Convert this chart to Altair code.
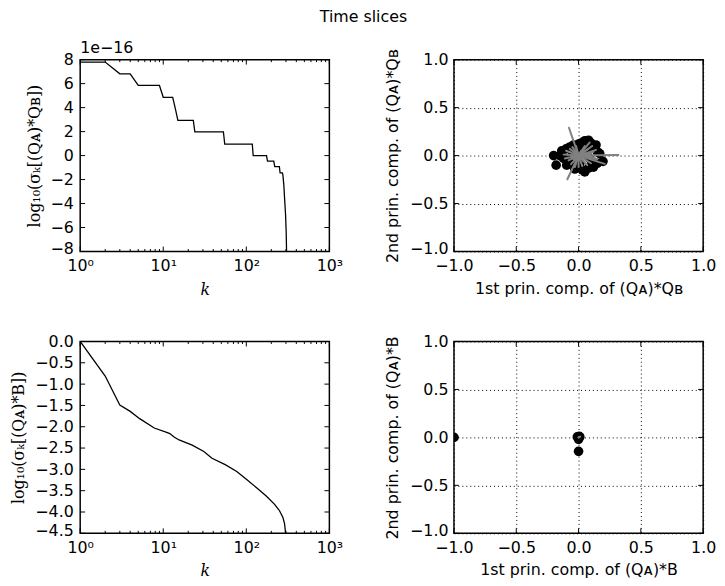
import altair as alt
import pandas as pd

# ---------------- data ----------------
# Top-left: sigma_k[(Q_A)* Q_B]  (axis values in units of 1e-16)
k_qb = [1, 2, 3, 4, 5, 9, 10, 13, 14, 15, 23, 24, 53, 55, 118, 121, 175, 180,
        214, 220, 250, 255, 272, 276, 283, 289, 297, 302, 305, 307]
sv_qb = [7.8, 7.8, 6.82, 6.82, 5.85, 5.85, 4.86, 4.86, 3.9, 2.93, 2.93, 1.97,
         1.97, 0.96, 0.96, 0.0, 0.0, -0.47, -0.47, -0.92, -0.92, -1.44, -1.44,
         -1.65, -2.48, -3.59, -4.96, -6.35, -7.86, -9.5]

# Bottom-left: log10 sigma_k[(Q_A)* B]
k_b = [1, 2, 3, 4, 5.2, 7.8, 11, 12, 13.5, 15.5, 22.3, 30.8, 38.6, 55.7, 76.7,
       101, 133, 175, 219, 251, 276, 289, 296, 300]
sv_b = [0.0, -0.81, -1.49, -1.64, -1.81, -2.03, -2.13, -2.16, -2.24, -2.31,
        -2.43, -2.58, -2.74, -2.89, -3.05, -3.24, -3.43, -3.63, -3.82, -3.97,
        -4.13, -4.28, -4.47, -4.6]

# Top-right: principal components of (Q_A)* Q_B
pc_qb_x = [-0.20, -0.18, -0.135, -0.12, -0.10, -0.095, -0.07, -0.06, -0.04, -0.03,
           -0.02, 0.00, 0.01, 0.02, 0.03, 0.05, 0.05, 0.06, 0.08, 0.08, 0.10, 0.10,
           0.12, 0.12, 0.14, 0.15, 0.15, 0.17, 0.196, -0.15, 0.00, 0.04, -0.05, 0.08]
pc_qb_y = [0.00, -0.10, 0.05, -0.03, 0.07, -0.10, 0.09, -0.06, 0.11, -0.14,
           0.03, 0.12, -0.08, 0.13, -0.15, 0.155, -0.17, 0.05, 0.16, -0.13, 0.13, -0.05,
           0.09, -0.12, 0.11, 0.04, -0.08, 0.02, -0.06, 0.00, 0.00, 0.08, 0.00, -0.02]
ray_qb_x = [-0.077, -0.09, 0.32, 0.21, 0.09, 0.12, -0.10, -0.11, 0.10, 0.05, -0.05,
            -0.06, 0.03, -0.02, 0.13, 0.14, -0.12, 0.07, 0.00, 0.11, -0.08, 0.06,
            -0.04, 0.02, 0.15, -0.07, 0.08, -0.03, 0.10, 0.04]
ray_qb_y = [0.29, -0.247, 0.005, -0.086, 0.137, 0.04, 0.05, -0.03, -0.08, 0.10, 0.09,
            -0.09, -0.11, 0.10, -0.02, 0.06, 0.01, -0.10, -0.12, 0.10, -0.05, 0.02,
            -0.04, 0.05, -0.04, 0.07, 0.07, -0.12, 0.02, -0.06]

# Bottom-right: principal components of (Q_A)* B
pc_b_x = [-1.0, 0.0, -0.01, 0.01, 0.0, 0.0, 0.005]
pc_b_y = [0.0, -0.145, 0.005, 0.005, 0.0, -0.02, 0.01]
ray_b_x = [0.013, 0.008]
ray_b_y = [0.008, 0.005]

log_ticks_major = [1, 10, 100, 1000]
log_ticks_minor = [m * d for d in (1, 10, 100) for m in range(2, 10)]
pc_ticks = [-1.0, -0.5, 0.0, 0.5, 1.0]

# ---------------- styling ----------------
W, H = 252, 194
FONT = "DejaVu Sans"
SERIF = "DejaVu Serif"
FS = 16


def make_axis(title, values, fmt=None, label_expr=None, grid=False, title_font=FONT,
              label_pad=5, title_pad=10, title_style="normal", lift_value=None):
    kw = dict(title=title, values=values, ticks=False, domain=False, grid=grid,
              labelFont=FONT, labelFontSize=FS, labelColor="black",
              labelFlush=False, labelOverlap=False, labelPadding=label_pad,
              titleFont=title_font, titleFontSize=FS, titleFontWeight="normal",
              titleFontStyle=title_style,
              titleColor="black", titlePadding=title_pad)
    if fmt:
        kw["format"] = fmt
    if label_expr:
        kw["labelExpr"] = label_expr
    if lift_value is not None:
        kw["labelOffset"] = {"condition": {"test": f"datum.value == {lift_value}",
                                           "value": -3}, "value": 0}
    if grid:
        kw.update(gridColor="black", gridDash=[1, 3], gridWidth=1, gridOpacity=1)
    return alt.Axis(**kw)


def tick_layers(xs_major, xs_minor, ys_major, xscale, yscale, xaxis, yaxis):
    layers = []
    for vals, L in ((xs_major, 5), (xs_minor, 2.5)):
        if not vals:
            continue
        base = alt.Chart(pd.DataFrame({"v": vals})).mark_rule(color="black", strokeWidth=1)
        xe = alt.X("v:Q", scale=xscale, axis=xaxis)
        layers.append(base.encode(x=xe, y=alt.value(H), y2=alt.value(H - L)))
        layers.append(base.encode(x=xe, y=alt.value(0), y2=alt.value(L)))
    base = alt.Chart(pd.DataFrame({"v": ys_major})).mark_rule(color="black", strokeWidth=1)
    ye = alt.Y("v:Q", scale=yscale, axis=yaxis)
    layers.append(base.encode(y=ye, x=alt.value(0), x2=alt.value(5)))
    layers.append(base.encode(y=ye, x=alt.value(W), x2=alt.value(W - 5)))
    return layers


log_expr = ("datum.value == 1 ? '10⁰' : datum.value == 10 ? '10¹' : "
            "datum.value == 100 ? '10²' : '10³'")

xlog = alt.Scale(type="log", domain=[1, 1000], nice=False)
x_log_axis = make_axis("k", log_ticks_major, label_expr=log_expr, title_font=SERIF,
                       label_pad=6, title_pad=8, title_style="italic")

# ----- top-left -----
y_tl = alt.Scale(domain=[-8, 8], nice=False, zero=False)
tl_vals = list(range(-8, 9, 2))
y_tl_axis = make_axis("log₁₀(σₖ[(Qᴀ)*Qʙ])", tl_vals, fmt="d",
                      title_font=SERIF, label_pad=7, title_pad=8, lift_value=-8)
tl_line = alt.Chart(pd.DataFrame({"k": k_qb, "s": sv_qb})).mark_line(
    color="black", strokeWidth=1.3, clip=True).encode(
    x=alt.X("k:Q", scale=xlog, axis=x_log_axis),
    y=alt.Y("s:Q", scale=y_tl, axis=y_tl_axis),
    order="k:Q")
tl = alt.layer(tl_line, *tick_layers(log_ticks_major, log_ticks_minor, tl_vals,
                                     xlog, y_tl, x_log_axis, y_tl_axis)).properties(
    width=W, height=H,
    title=alt.TitleParams("1e−16", anchor="start", frame="group", font=FONT,
                          fontSize=FS, fontWeight="normal", color="black", offset=-4))

# ----- bottom-left -----
y_bl = alt.Scale(domain=[-4.5, 0], nice=False, zero=False)
bl_vals = [0, -0.5, -1.0, -1.5, -2.0, -2.5, -3.0, -3.5, -4.0, -4.5]
y_bl_axis = make_axis("log₁₀(σₖ[(Qᴀ)*B])", bl_vals, fmt=".1f",
                      title_font=SERIF, label_pad=7, title_pad=8, lift_value=-4.5)
bl_line = alt.Chart(pd.DataFrame({"k": k_b, "s": sv_b})).mark_line(
    color="black", strokeWidth=1.3, clip=True).encode(
    x=alt.X("k:Q", scale=xlog, axis=x_log_axis),
    y=alt.Y("s:Q", scale=y_bl, axis=y_bl_axis),
    order="k:Q")
bl = alt.layer(bl_line, *tick_layers(log_ticks_major, log_ticks_minor, bl_vals,
                                     xlog, y_bl, x_log_axis, y_bl_axis)).properties(
    width=W, height=H)


# ----- scatter panels -----
def pc_panel(px, py, rx, ry, xtitle, ytitle):
    sx = alt.Scale(domain=[-1, 1], nice=False, zero=False)
    sy = alt.Scale(domain=[-1, 1], nice=False, zero=False)
    ax = make_axis(xtitle, pc_ticks, fmt=".1f", grid=True, label_pad=6, title_pad=7)
    ay = make_axis(ytitle, pc_ticks, fmt=".1f", grid=True, label_pad=6, title_pad=9,
                   lift_value=-1)
    pts = alt.Chart(pd.DataFrame({"x": px, "y": py})).mark_circle(
        size=95, color="black", opacity=1, clip=True).encode(
        x=alt.X("x:Q", scale=sx, axis=ax),
        y=alt.Y("y:Q", scale=sy, axis=ay))
    rays = alt.Chart(pd.DataFrame({"x": rx, "y": ry, "x0": [0.0] * len(rx),
                                   "y0": [0.0] * len(ry)})).mark_rule(
        color="#808080", strokeWidth=2, strokeCap="round", clip=True).encode(
        x=alt.X("x:Q", scale=sx, axis=ax), y=alt.Y("y:Q", scale=sy, axis=ay),
        x2="x0:Q", y2="y0:Q")
    return alt.layer(pts, rays, *tick_layers(pc_ticks, [], pc_ticks, sx, sy, ax, ay)).properties(
        width=W, height=H)


tr = pc_panel(pc_qb_x, pc_qb_y, ray_qb_x, ray_qb_y,
              "1st prin. comp. of (Qᴀ)*Qʙ", "2nd prin. comp. of (Qᴀ)*Qʙ")
br = pc_panel(pc_b_x, pc_b_y, ray_b_x, ray_b_y,
              "1st prin. comp. of (Qᴀ)*B", "2nd prin. comp. of (Qᴀ)*B")

chart = alt.concat(tl, tr, bl, br, columns=2,
                   spacing={"row": 91, "column": 126}, bounds="flush").properties(
    title=alt.TitleParams("Time slices", anchor="middle", font=FONT, fontSize=FS,
                          fontWeight="normal", color="black", offset=14),
    padding={"left": 2, "top": -2, "right": 0, "bottom": 0},
    background="white",
).configure_view(stroke="black", strokeWidth=1.5)

chart.save("out.html", embed_options={"renderer": "svg", "actions": False})
